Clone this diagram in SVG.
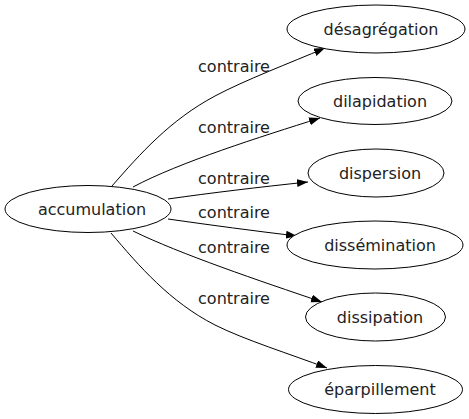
<svg xmlns="http://www.w3.org/2000/svg" width="469" height="419" viewBox="0 0 469 419">
<style>
.n ellipse{fill:#fff;stroke:#000;stroke-width:1}
text{font-family:"DejaVu Sans",sans-serif;font-size:16px;fill:#222;text-anchor:middle}
.e path{fill:none;stroke:#000;stroke-width:1}
</style>
<defs>
<marker id="ah" markerUnits="userSpaceOnUse" markerWidth="12" markerHeight="9" refX="11" refY="4" orient="auto">
<path d="M0,0 L11,4 L0,8 z" fill="#000"/>
</marker>
</defs>
<rect width="469" height="419" fill="#fff"/>
<g class="e" id="edges">
<path d="M112,186 C140,154 170,120 215,96 C245,80 290,63 325,48" marker-end="url(#ah)"/>
<path d="M133,187 C180,162 260,137 320,118" marker-end="url(#ah)"/>
<path d="M168,199 C210,193 260,187 308,182" marker-end="url(#ah)"/>
<path d="M168,219 C210,225 255,231 297,236" marker-end="url(#ah)"/>
<path d="M133,231 C180,254 260,281 322,302" marker-end="url(#ah)"/>
<path d="M111,233 C139,266 170,302 215,325 C245,340 290,354 327,368" marker-end="url(#ah)"/>
<text x="234" y="72">contraire</text>
<text x="234" y="133">contraire</text>
<text x="234" y="184">contraire</text>
<text x="234" y="218">contraire</text>
<text x="234" y="253">contraire</text>
<text x="234" y="304">contraire</text>
</g>
<g class="n" id="accumulation"><ellipse cx="88" cy="209" rx="83" ry="23.5"/><text x="92" y="215">accumulation</text></g>
<g class="n" id="desagregation"><ellipse cx="376" cy="29" rx="89" ry="24"/><text x="381" y="35">désagrégation</text></g>
<g class="n" id="dilapidation"><ellipse cx="375" cy="101" rx="77" ry="23.5"/><text x="380" y="107">dilapidation</text></g>
<g class="n" id="dispersion"><ellipse cx="376" cy="173" rx="68" ry="24"/><text x="380" y="179">dispersion</text></g>
<g class="n" id="dissemination"><ellipse cx="375" cy="245" rx="88" ry="24"/><text x="380" y="251">dissémination</text></g>
<g class="n" id="dissipation"><ellipse cx="375.5" cy="317" rx="70" ry="24"/><text x="380" y="323">dissipation</text></g>
<g class="n" id="eparpillement"><ellipse cx="375.5" cy="389.5" rx="87" ry="24"/><text x="380" y="395">éparpillement</text></g>
</svg>
